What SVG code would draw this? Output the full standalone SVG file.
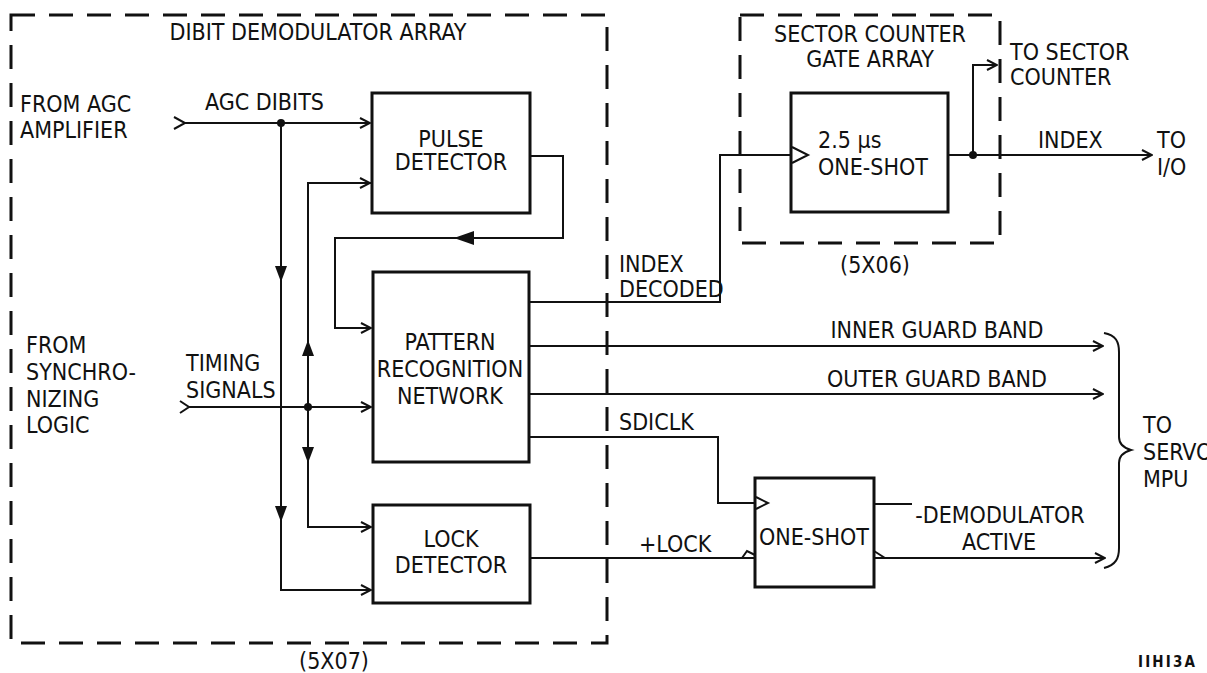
<svg xmlns="http://www.w3.org/2000/svg" width="1207" height="673" viewBox="0 0 1207 673">
<style>
text{font-family:"Liberation Sans Narrow","DejaVu Sans Condensed","Liberation Sans",sans-serif;font-size:23px;fill:#111}
.c{text-anchor:middle}
.box{fill:#fff;stroke:#111;stroke-width:3}
.dash{fill:none;stroke:#111;stroke-width:3;stroke-dasharray:24 14}
.w{fill:none;stroke:#111;stroke-width:2}
.f{fill:#111;stroke:none}
.tri{fill:none;stroke:#111;stroke-width:2}
</style>
<defs>
<marker id="chev" viewBox="0 0 12 12" refX="11" refY="6" markerWidth="12" markerHeight="12" markerUnits="userSpaceOnUse" orient="auto">
<path d="M1,1 L11,6 L1,11" fill="none" stroke="#111" stroke-width="2"/>
</marker>
</defs>
<g id="dibit-array">
<rect class="dash" x="11" y="15" width="596" height="628"/>
<text class="c" x="318" y="40">DIBIT DEMODULATOR ARRAY</text>
<text class="c" x="334" y="669">(5X07)</text>
</g>
<g id="sector-array">
<rect class="dash" x="740" y="15" width="260" height="228"/>
<text class="c" x="870" y="42">SECTOR COUNTER</text>
<text class="c" x="870" y="67">GATE ARRAY</text>
<text class="c" x="875" y="273">(5X06)</text>
</g>
<g id="pulse-detector">
<rect class="box" x="372" y="93" width="158" height="120"/>
<text class="c" x="451" y="147">PULSE</text>
<text class="c" x="451" y="170">DETECTOR</text>
</g>
<g id="pattern-recognition">
<rect class="box" x="373" y="272" width="156" height="190"/>
<text class="c" x="450" y="350">PATTERN</text>
<text class="c" x="450" y="377">RECOGNITION</text>
<text class="c" x="450" y="404">NETWORK</text>
</g>
<g id="lock-detector">
<rect class="box" x="373" y="505" width="157" height="98"/>
<text class="c" x="451" y="547">LOCK</text>
<text class="c" x="451" y="573">DETECTOR</text>
</g>
<g id="index-oneshot">
<rect class="box" x="791" y="93" width="157" height="119"/>
<path class="tri" d="M792,147 L808,155 L792,163"/>
<text x="818" y="148">2.5 µs</text>
<text x="818" y="175">ONE-SHOT</text>
</g>
<g id="demod-oneshot">
<rect class="box" x="755" y="478" width="119" height="109"/>
<path class="tri" d="M756,497 L768,503 L756,509"/>
<text class="c" x="814" y="545">ONE-SHOT</text>
</g>
<g id="connectors">
<path class="w" d="M174,117 L185,123 L174,129"/>
<path class="w" d="M185,123 H370" marker-end="url(#chev)"/>
<circle class="f" cx="281" cy="123" r="4"/>
<path class="w" d="M281,123 V590 H371" marker-end="url(#chev)"/>
<path class="f" d="M275,266 L287,266 L281,282 Z"/>
<path class="f" d="M275,506 L287,506 L281,522 Z"/>
<path class="w" d="M371,183 H308 V527 H371" marker-end="url(#chev)"/>
<path class="w" d="M308,183 H370" marker-end="url(#chev)"/>
<path class="f" d="M302,356 L314,356 L308,340 Z"/>
<path class="f" d="M302,447 L314,447 L308,463 Z"/>
<circle class="f" cx="308" cy="407" r="4"/>
<path class="w" d="M180,401 L189,407 L180,413"/>
<path class="w" d="M189,407 H371" marker-end="url(#chev)"/>
<path class="w" d="M530,156 H563 V238 H335 V328 H371" marker-end="url(#chev)"/>
<path class="f" d="M474,231 L474,245 L454,238 Z"/>
<path class="w" d="M529,302 H720 V155 H791"/>
<path class="w" d="M948,155 H1152" marker-end="url(#chev)"/>
<circle class="f" cx="973" cy="155" r="4"/>
<path class="w" d="M973,155 V65 H997" marker-end="url(#chev)"/>
<path class="w" d="M529,346 H1103" marker-end="url(#chev)"/>
<path class="w" d="M529,394 H1103" marker-end="url(#chev)"/>
<path class="w" d="M529,437 H718 V503 H755"/>
<path class="w" d="M530,558 H755"/>
<path class="tri" d="M742,558 L747,551 L755,555"/>
<path class="w" d="M874,504 H912"/>
<path class="w" d="M874,558 H1105" marker-end="url(#chev)"/>
<path class="tri" d="M874,551 L885,558"/>
<path class="w" d="M1104,333 C1116,335 1119,342 1119,352 V437 C1119,444 1124,448 1131,450 C1124,452 1119,456 1119,463 V548 C1119,558 1116,565 1104,568"/>
</g>
<g id="labels">
<text x="20" y="112">FROM AGC</text>
<text x="20" y="138">AMPLIFIER</text>
<text x="205" y="110">AGC DIBITS</text>
<text x="26" y="353">FROM</text>
<text x="26" y="380">SYNCHRO-</text>
<text x="26" y="407">NIZING</text>
<text x="26" y="433">LOGIC</text>
<text x="186" y="371">TIMING</text>
<text x="186" y="398">SIGNALS</text>
<text x="619" y="272">INDEX</text>
<text x="619" y="297">DECODED</text>
<text x="1010" y="60">TO SECTOR</text>
<text x="1010" y="85">COUNTER</text>
<text x="1038" y="148">INDEX</text>
<text x="1157" y="148">TO</text>
<text x="1157" y="175">I/O</text>
<text class="c" x="937" y="338">INNER GUARD BAND</text>
<text class="c" x="937" y="387">OUTER GUARD BAND</text>
<text x="619" y="430">SDICLK</text>
<text x="639" y="552">+LOCK</text>
<text class="c" x="1000" y="523">-DEMODULATOR</text>
<text class="c" x="999" y="550">ACTIVE</text>
<text x="1143" y="433">TO</text>
<text x="1143" y="460">SERVO</text>
<text x="1143" y="487">MPU</text>
<text x="1138" y="667" textLength="57" style="font-size:15px;font-weight:bold">IIHI3A</text>
</g>
</svg>
